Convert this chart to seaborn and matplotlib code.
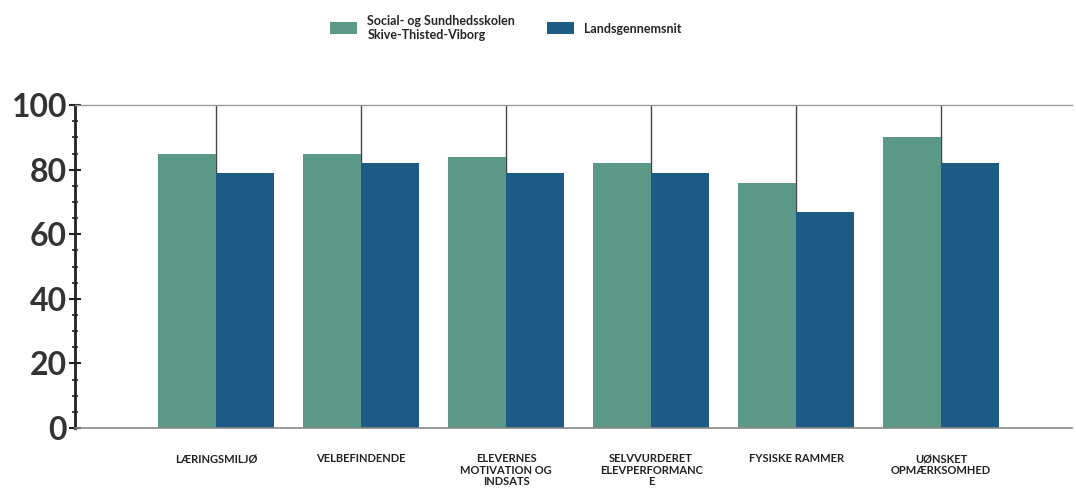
import pandas as pd
import matplotlib.pyplot as plt
import seaborn as sns
from matplotlib.ticker import MultipleLocator

sns.set_theme(style='white')
plt.rcParams['font.family'] = ['Lato', 'DejaVu Sans']

# Data
categories = ['LÆRINGSMILJØ', 'VELBEFINDENDE', 'ELEVERNES\nMOTIVATION OG\nINDSATS',
              'SELVVURDERET\nELEVPERFORMANC\nE', 'FYSISKE RAMMER', 'UØNSKET\nOPMÆRKSOMHED']
series_names = ['Social- og Sundhedsskolen\nSkive-Thisted-Viborg', 'Landsgennemsnit']
school = [85, 85, 84, 82, 76, 90]
national = [79, 82, 79, 79, 67, 82]

df = pd.DataFrame({
    'kategori': categories * 2,
    'serie': [series_names[0]] * len(categories) + [series_names[1]] * len(categories),
    'værdi': school + national,
})

palette = {series_names[0]: '#5b9888', series_names[1]: '#1d5b84'}

fig = plt.figure(figsize=(10.76, 5.03), dpi=100)
ax = fig.add_axes([0.07, 0.149, 0.926, 0.642])

# Vertical lines at category centres, behind the bars
for i in range(len(categories)):
    ax.axvline(i, color='#444444', lw=1.0, zorder=0)

sns.barplot(data=df, x='kategori', y='værdi', hue='serie', palette=palette,
            width=0.8, saturation=1, linewidth=0, ax=ax, zorder=2, legend=True)

ax.set_xlim(-0.97, 5.9)
ax.set_ylim(0, 100)
ax.set_xlabel('')
ax.set_ylabel('')
ax.yaxis.set_major_locator(MultipleLocator(20))
ax.yaxis.set_minor_locator(MultipleLocator(5))
ax.tick_params(axis='y', which='major', direction='inout', length=8, width=1.5,
               color='#222222', labelsize=23, left=True, pad=2)
ax.tick_params(axis='y', which='minor', direction='inout', length=5, width=1.2,
               color='#222222', left=True)
for lab in ax.get_yticklabels():
    lab.set_fontweight('bold')
    lab.set_color('#333333')
ax.tick_params(axis='x', length=0, pad=18, labelsize=8)
for lab in ax.get_xticklabels():
    lab.set_fontweight('bold')
    lab.set_color('#222222')
    lab.set_linespacing(1.05)

ax.spines['right'].set_visible(False)
ax.spines['left'].set_color('#222222')
ax.spines['left'].set_linewidth(2)
ax.spines['top'].set_color('#999999')
ax.spines['top'].set_linewidth(1)
ax.spines['bottom'].set_color('#888888')
ax.spines['bottom'].set_linewidth(1.2)

handles, labels = ax.get_legend_handles_labels()
ax.get_legend().remove()
fig.legend(handles, labels, loc='center', bbox_to_anchor=(0.47, 0.945), ncol=2,
           frameon=False, prop={'weight': 'bold', 'size': 9}, handlelength=2.2,
           handleheight=1.1, columnspacing=2.5, handletextpad=0.8)

plt.savefig('out.png', dpi=100)
